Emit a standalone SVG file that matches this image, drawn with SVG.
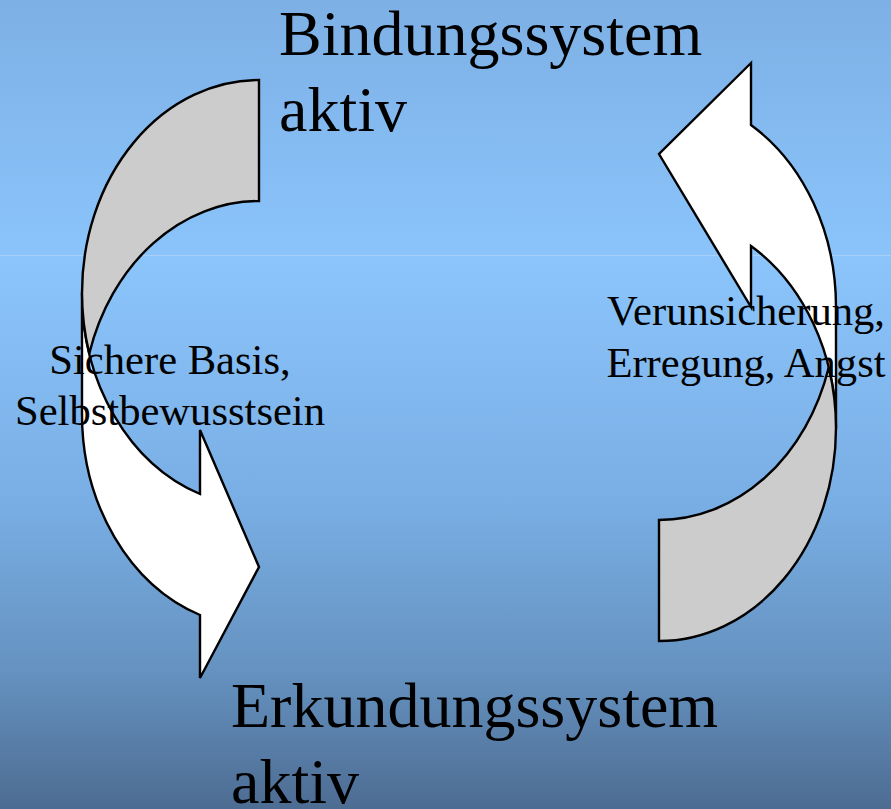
<svg xmlns="http://www.w3.org/2000/svg" width="891" height="809" viewBox="0 0 891 809">
  <defs>
    <linearGradient id="bgTop" x1="0" y1="0" x2="0" y2="1">
      <stop offset="0" stop-color="#7db0e5"/>
      <stop offset="1" stop-color="#8ac4fb"/>
    </linearGradient>
    <linearGradient id="bgBot" x1="0" y1="0" x2="0" y2="1">
      <stop offset="0" stop-color="#8bc5fc"/>
      <stop offset="0.45" stop-color="#79aee4"/>
      <stop offset="0.75" stop-color="#6592c0"/>
      <stop offset="1" stop-color="#4d6c92"/>
    </linearGradient>
    <style>
      .front { fill: #ffffff; stroke: #000000; stroke-width: 2.4; stroke-linejoin: miter; }
      .back { fill: #cccccc; stroke: #000000; stroke-width: 2.4; stroke-linejoin: miter; }
      .big { font-family: "Liberation Serif", "Times New Roman", serif; font-size: 64px; fill: #000000; }
      .lbl { font-family: "Liberation Serif", "Times New Roman", serif; font-size: 42.6px; fill: #000000; text-anchor: middle; }
    </style>
  </defs>

  <rect x="0" y="0" width="891" height="255" fill="url(#bgTop)"/>
  <rect x="0" y="255" width="891" height="554" fill="url(#bgBot)"/>
  <rect x="0" y="255" width="891" height="1" fill="#a9d0f7"/>

  <g id="connectors">
    <g id="arrow-left">
      <path class="front" d="M 82 293 A 177 213 0 0 0 200 494 L 200 430 L 259 567 L 200 678 L 200 615 A 177 213 0 0 1 82 414 Z"/>
      <path class="back" d="M 259 201 A 177 213 0 0 0 89.3 353.5 A 177 213 0 0 1 82 293 A 177 213 0 0 1 259 80 Z"/>
    </g>
    <g id="arrow-right">
      <path class="front" d="M 836 428 A 177 213 0 0 0 751 246 L 751 307 L 659 154 L 751 63 L 751 125 A 177 213 0 0 1 836 307 Z"/>
      <path class="back" d="M 659 520 A 177 213 0 0 0 828.7 367.5 A 177 213 0 0 1 836 428 A 177 213 0 0 1 659 641 Z"/>
    </g>
  </g>

  <g id="node-bindung">
    <text class="big" x="279" y="55">Bindungssystem</text>
    <text class="big" x="279" y="131">aktiv</text>
  </g>
  <g id="node-erkundung">
    <text class="big" x="231" y="727">Erkundungssystem</text>
    <text class="big" x="231" y="803">aktiv</text>
  </g>
  <g id="label-left">
    <text class="lbl" x="170" y="374">Sichere Basis,</text>
    <text class="lbl" x="170" y="425">Selbstbewusstsein</text>
  </g>
  <g id="label-right">
    <text class="lbl" x="746" y="325">Verunsicherung,</text>
    <text class="lbl" x="746" y="377">Erregung, Angst</text>
  </g>
</svg>
